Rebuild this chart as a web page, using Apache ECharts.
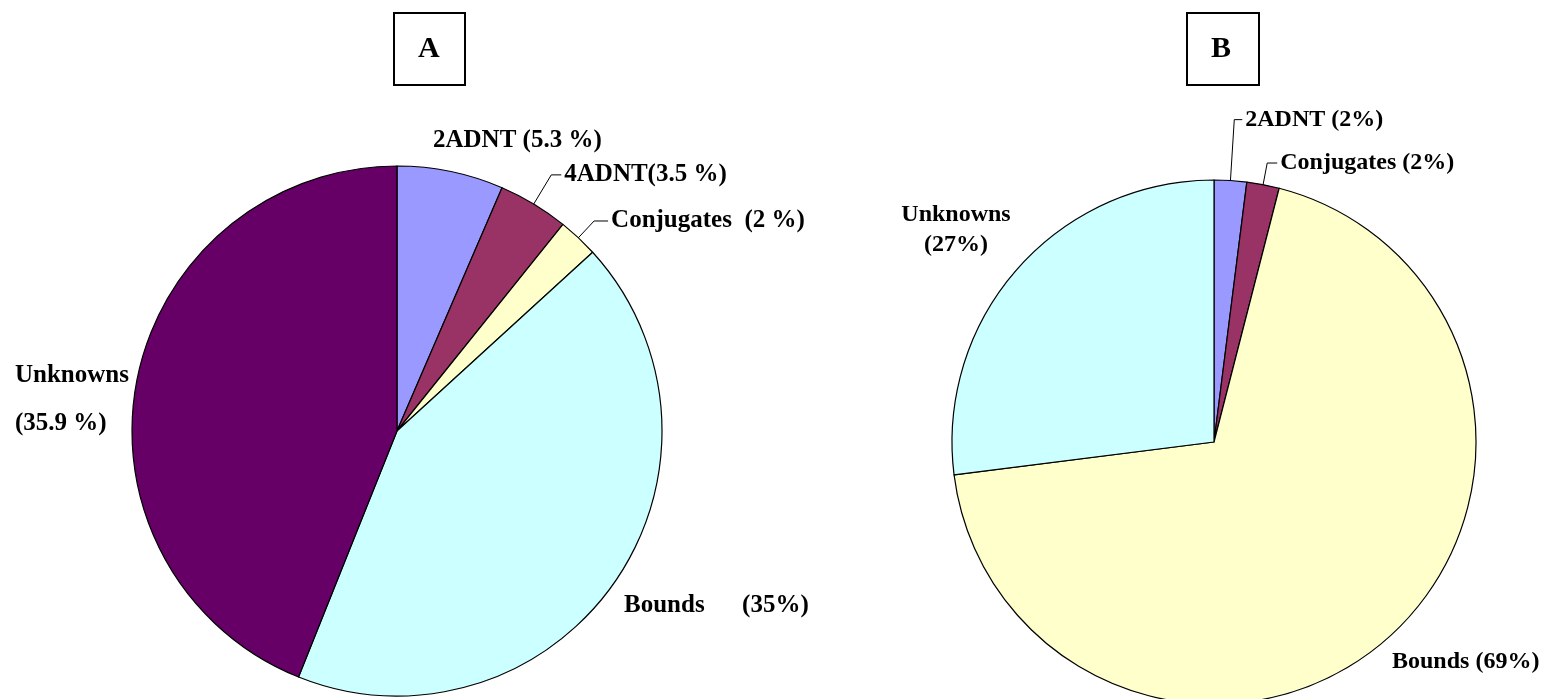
<!DOCTYPE html>
<html lang="en">
<head>
    <meta charset="UTF-8">
    <title>Pie A / B</title>
    <script src="https://cdn.jsdelivr.net/npm/echarts@6/dist/echarts.min.js"></script>
    <style>
        body { margin: 0; background: #fff; }
    </style>
</head>
<body>
    <div id="main" style="width:1545px; height:699px"></div>
    <script type="text/javascript">
        // data
        var namesA = ['2ADNT', '4ADNT', 'Conjugates', 'Bounds', 'Unknowns'];
        var valuesA = [5.3, 3.5, 2, 35, 35.9];
        var labelsA = ['2ADNT (5.3 %)', '4ADNT(3.5 %)', 'Conjugates  (2 %)', 'Bounds      (35%)', 'Unknowns\n(35.9 %)'];
        var colorsA = ['#9999FF', '#993366', '#FFFFCC', '#CCFFFF', '#660066'];

        var namesB = ['2ADNT', 'Conjugates', 'Bounds', 'Unknowns'];
        var valuesB = [2, 2, 69, 27];
        var labelsB = ['2ADNT (2%)', 'Conjugates (2%)', 'Bounds (69%)', 'Unknowns\n(27%)'];
        var colorsB = ['#9999FF', '#993366', '#FFFFCC', '#CCFFFF'];

        // leader line lengths (null = no leader, label placed by labelPos)
        var leaderA = [null, [34, 10], [23, 14], null, null];
        var leaderB = [[61, 8], [22, 10], null, null];
        var labelPos = [
            { 0: [433, 141, 'left', 24], 3: [624, 606, 'left', 24], 4: [15, 400, 'left', 48] },
            { 2: [1392, 662, 'left', 24], 3: [956, 230, 'center', 30] }
        ];

        var chart = echarts.init(document.getElementById('main'));

        var font = {
            fontFamily: '"Liberation Serif", "Times New Roman", serif',
            fontWeight: 'bold',
            fontSize: 24,
            color: '#000'
        };

        function buildData(names, values, labels, colors, leaders, pos) {
            return names.map(function (n, i) {
                var item = {
                    name: n,
                    value: values[i],
                    itemStyle: { color: colors[i] },
                    label: { formatter: labels[i] }
                };
                if (leaders[i]) {
                    item.labelLine = { show: true, length: leaders[i][0], length2: leaders[i][1] };
                } else {
                    item.labelLine = { show: false };
                    item.label.lineHeight = pos[i][3];
                    item.label.align = pos[i][2];
                }
                return item;
            });
        }

        function pieSeries(idx, center, radius, fontSize, data) {
            return {
                type: 'pie',
                center: center,
                radius: radius,
                startAngle: 90,
                clockwise: true,
                avoidLabelOverlap: false,
                silent: true,
                animation: false,
                label: Object.assign({ show: true, position: 'outside', distanceToLabelLine: 3 }, font, { fontSize: fontSize }),
                labelLine: { lineStyle: { color: '#000', width: 1 }, smooth: false },
                itemStyle: { borderColor: '#000', borderWidth: 1.2 },
                emphasis: { disabled: true },
                labelLayout: function (params) {
                    var p = labelPos[idx][params.dataIndex];
                    if (!p) return {};
                    return { x: p[0], y: p[1], align: p[2], verticalAlign: 'middle' };
                },
                data: data
            };
        }

        var option = {
            backgroundColor: '#fff',
            title: [
                {
                    text: 'A', left: 394, top: 14,
                    padding: [21, 26, 21, 24],
                    borderColor: '#000', borderWidth: 2,
                    textStyle: Object.assign({}, font, { fontSize: 30, lineHeight: 28 })
                },
                {
                    text: 'B', left: 1187, top: 14,
                    padding: [21, 28, 21, 24],
                    borderColor: '#000', borderWidth: 2,
                    textStyle: Object.assign({}, font, { fontSize: 30, lineHeight: 28 })
                }
            ],
            series: [
                pieSeries(0, [397, 431], 265, 25, buildData(namesA, valuesA, labelsA, colorsA, leaderA, labelPos[0])),
                pieSeries(1, [1214, 442], 262, 24, buildData(namesB, valuesB, labelsB, colorsB, leaderB, labelPos[1]))
            ]
        };

        chart.setOption(option);
    </script>
</body>
</html>
